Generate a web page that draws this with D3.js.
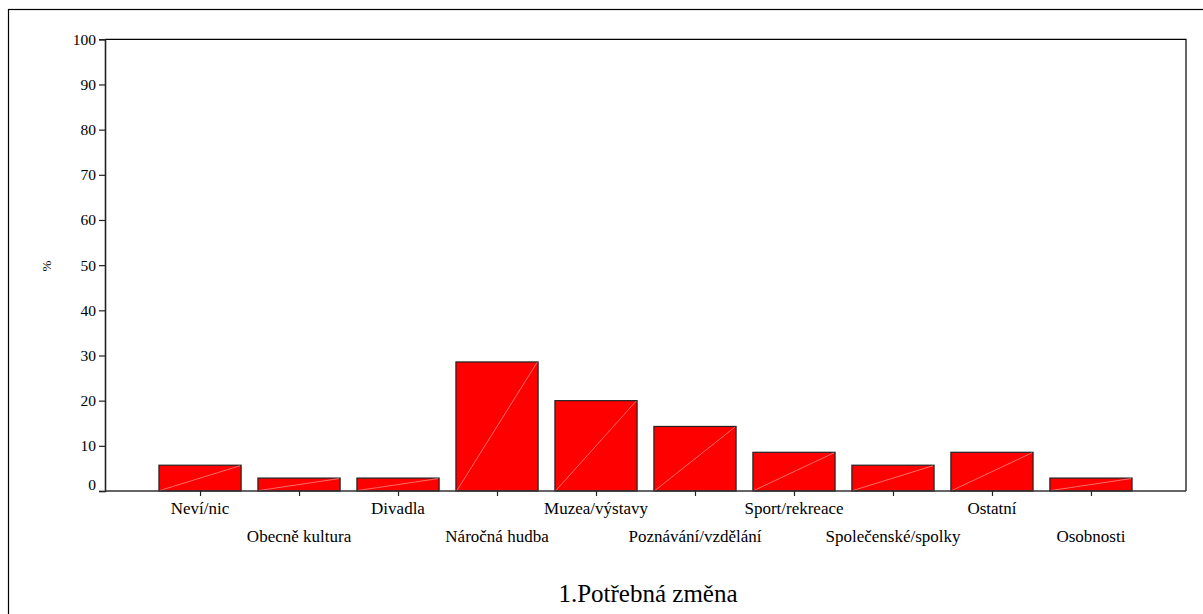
<!DOCTYPE html>
<html>
<head>
<meta charset="utf-8">
<script src="https://cdn.jsdelivr.net/npm/d3@7"></script>
<style>
  html, body { margin: 0; padding: 0; background: #fff; }
  svg { display: block; }
  text { font-family: "Liberation Serif", "Times New Roman", serif; fill: #000; }
</style>
</head>
<body>
<svg id="chart" width="1203" height="614"></svg>
<script>
const categories = ["Neví/nic", "Obecně kultura", "Divadla", "Náročná hudba", "Muzea/výstavy",
  "Poznávání/vzdělání", "Sport/rekreace", "Společenské/spolky", "Ostatní", "Osobnosti"];
const values = [5.71, 2.86, 2.86, 28.57, 20.0, 14.29, 8.57, 5.71, 8.57, 2.86];
const yTicks = [0, 10, 20, 30, 40, 50, 60, 70, 80, 90, 100];
const yLabel = "%";
const title = "1.Potřebná změna";

const W = 1203, H = 614;
const m = { left: 105, right: 1186, top: 39.3, bottom: 491 };
const svg = d3.select("#chart");

// outer frame
svg.append("rect").attr("x", 8.5).attr("y", 9.5).attr("width", 1210).attr("height", 620)
  .attr("fill", "none").attr("stroke", "#000").attr("stroke-width", 1.2);

const x = d3.scalePoint().domain(categories).range([m.left, m.right]).padding(0.96);
const y = d3.scaleLinear().domain([0, 100]).range([m.bottom, m.top]);
const bw = x.step() * 0.83;

// plot box (top and right)
svg.append("path")
  .attr("d", `M${m.left},${m.top}H${m.right}V${m.bottom}`)
  .attr("fill", "none").attr("stroke", "#000").attr("stroke-width", 1.2);

// bars
const g = svg.append("g");
const bars = g.selectAll("g.bar").data(categories).join("g").attr("class", "bar");
bars.append("rect")
  .attr("x", (d) => x(d) - bw / 2)
  .attr("y", (d, i) => y(values[i]))
  .attr("width", bw)
  .attr("height", (d, i) => y(0) - y(values[i]))
  .attr("fill", "#ff0000")
  .attr("stroke", "#222").attr("stroke-width", 1.2);
bars.append("line")
  .attr("x1", (d) => x(d) - bw / 2 + 1)
  .attr("y1", y(0) - 0.5)
  .attr("x2", (d) => x(d) + bw / 2 - 1)
  .attr("y2", (d, i) => y(values[i]) + 0.5)
  .attr("stroke", "#ff9a9a").attr("stroke-width", 0.7);

// y axis
const yAxis = svg.append("g").attr("transform", `translate(${m.left},0)`)
  .call(d3.axisLeft(y).tickValues(yTicks).tickSize(6).tickPadding(3));
yAxis.select(".domain").attr("stroke", "#222").attr("stroke-width", 1.6);
yAxis.selectAll(".tick line").attr("stroke", "#222").attr("stroke-width", 1.2);
yAxis.selectAll(".tick text").attr("font-size", 15.5).attr("font-family", "Liberation Serif").attr("fill", "#000")
  .attr("dy", (d) => d === 0 ? "-0.08em" : "0.32em");

// x axis
const xAxis = svg.append("g").attr("transform", `translate(0,${m.bottom})`)
  .call(d3.axisBottom(x).tickSize(5).tickSizeOuter(0).tickFormat(""));
xAxis.select(".domain").attr("stroke", "#333").attr("stroke-width", 1.6)
  .attr("d", `M${m.left},0H${m.right}`);
xAxis.selectAll(".tick line").attr("stroke", "#222").attr("stroke-width", 1.2);

// staggered category labels
svg.append("g").selectAll("text").data(categories).join("text")
  .attr("x", (d) => x(d))
  .attr("y", (d, i) => i % 2 === 0 ? 513.5 : 541.5)
  .attr("text-anchor", "middle")
  .attr("font-size", 17)
  .text((d) => d);

// y label
svg.append("text")
  .attr("transform", "translate(51,266) rotate(-90)")
  .attr("text-anchor", "middle")
  .attr("font-size", 13)
  .text(yLabel);

// title
svg.append("text")
  .attr("x", 648).attr("y", 601.5)
  .attr("text-anchor", "middle")
  .attr("font-size", 25)
  .text(title);
</script>
</body>
</html>
